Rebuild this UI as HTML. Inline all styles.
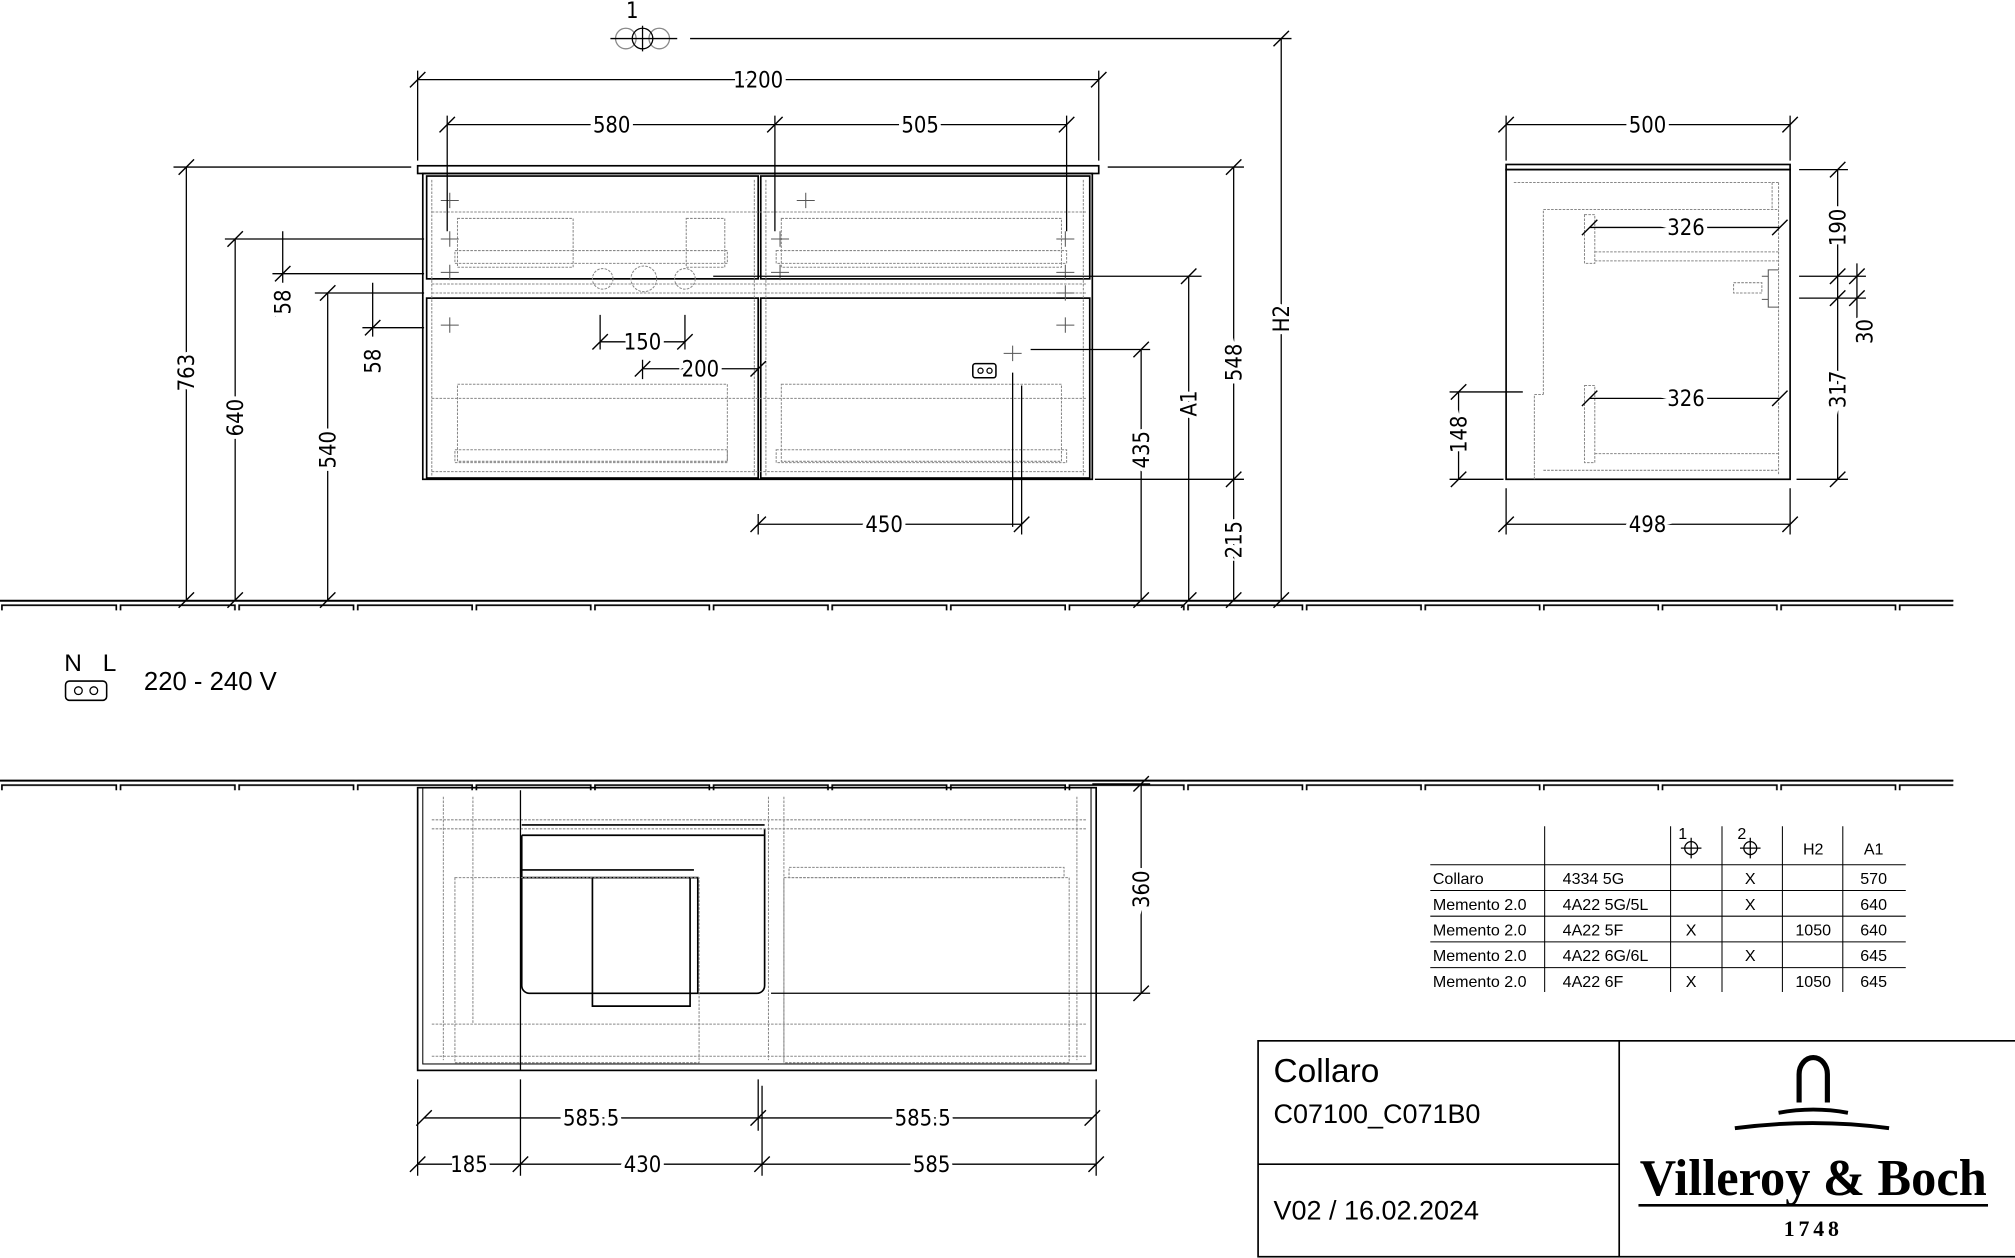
<!DOCTYPE html>
<html><head><meta charset="utf-8"><style>
html,body{margin:0;padding:0;background:#fff;}
svg{display:block}
.d{font-family:"DejaVu Sans Condensed","Liberation Sans",sans-serif;font-size:17px;fill:#000}
.t{font-family:"Liberation Sans",sans-serif;fill:#000}
</style></head><body>
<svg width="2015" height="1258" viewBox="0 0 1568 979" preserveAspectRatio="none" xmlns="http://www.w3.org/2000/svg">
<defs>
<pattern id="fl" width="92.3" height="10" patternUnits="userSpaceOnUse" x="0" y="0">
<rect x="1.5" y="1" width="89" height="6" fill="none" stroke="#000" stroke-width="1.3"/>
</pattern>
</defs>
<rect width="1568" height="979" fill="#fff"/>
<rect x="0" y="467" width="1520" height="8" fill="url(#fl)"/>
<line x1="0" y1="467.5" x2="1520" y2="467.5" stroke="#000" stroke-width="1.5"/>
<g transform="translate(0,140)"><rect x="0" y="467" width="1520" height="8" fill="url(#fl)"/>
<line x1="0" y1="467.5" x2="1520" y2="467.5" stroke="#000" stroke-width="1.5"/></g>

<g fill="none" stroke="#000" stroke-width="1.3">
<rect x="325" y="129" width="530" height="6"/>
<rect x="329" y="135" width="521" height="238"/>
<rect x="332" y="137" width="258" height="80"/>
<rect x="592" y="137" width="256" height="80"/>
<rect x="332" y="232" width="258" height="140"/>
<rect x="592" y="232" width="256" height="140"/>
<g stroke="#888" stroke-width="0.8" stroke-dasharray="2,1">
<line x1="336" y1="165" x2="846" y2="165"/><line x1="336" y1="221" x2="846" y2="221"/><line x1="336" y1="228" x2="846" y2="228"/>
<rect x="356" y="170" width="90" height="38"/><rect x="534" y="170" width="30" height="38"/>
<rect x="354" y="195" width="212" height="10"/>
<rect x="608" y="170" width="218" height="38"/><rect x="604" y="195" width="226" height="10"/>
<rect x="356" y="299" width="210" height="60"/><rect x="354" y="350" width="212" height="10"/>
<rect x="608" y="299" width="218" height="60"/><rect x="604" y="350" width="226" height="10"/>
<line x1="336" y1="310" x2="846" y2="310"/><line x1="336" y1="367" x2="846" y2="367"/>
<line x1="336" y1="140" x2="336" y2="370"/><line x1="843" y1="140" x2="843" y2="370"/>
<line x1="587" y1="140" x2="587" y2="370"/><line x1="596" y1="140" x2="596" y2="370"/>
<circle cx="469" cy="217" r="8"/><circle cx="501" cy="217" r="10"/><circle cx="533" cy="217" r="8"/>
</g>
<rect x="757" y="283" width="18" height="11" rx="2" stroke-width="1.2"/>
<circle cx="763" cy="288.5" r="2" stroke-width="1"/><circle cx="770" cy="288.5" r="2" stroke-width="1"/>
<g stroke="#555" stroke-width="0.8">
<path d="M343 186h14M350 180v12M343 212h14M350 206v12M343 253h14M350 247v12M343 156h14M350 150v12M620 156h14M627 150v12M600 186h14M607 180v12M600 212h14M607 206v12M822 186h14M829 180v12M822 212h14M829 206v12M822 253h14M829 247v12M822 228h14M829 222v12M781 275h14M788 269v12"/>
</g>

<!-- side view -->
<rect x="1172" y="128" width="221" height="4"/>
<rect x="1172" y="132" width="221" height="241"/>
<g stroke="#888" stroke-width="0.8" stroke-dasharray="2,1">
<line x1="1178" y1="142" x2="1384" y2="142"/><line x1="1384" y1="142" x2="1384" y2="370"/><line x1="1379" y1="142" x2="1379" y2="163"/>
<path d="M1201 307V163H1384"/><rect x="1233" y="167" width="8" height="38"/><line x1="1241" y1="203" x2="1384" y2="203"/><line x1="1241" y1="196" x2="1384" y2="196"/>
<rect x="1233" y="300" width="8" height="60"/><line x1="1241" y1="353" x2="1384" y2="353"/><line x1="1201" y1="366" x2="1384" y2="366"/>
<path d="M1194 373V307H1201"/>
<rect x="1349" y="220" width="22" height="8"/>
</g>
<path d="M1384 210h-8v29h8M1371 215h5M1371 233h5" fill="none" stroke="#555" stroke-width="0.8"/>

<!-- plan view -->
<rect x="325" y="613" width="528" height="220"/>
<rect x="329" y="613" width="520" height="215" stroke-width="0.8"/>
<path d="M406 650H595V645V767a6 6 0 0 1-6 6H412a6 6 0 0 1-6-6V650"/>
<line x1="406" y1="642" x2="595" y2="642"/>
<path d="M406 683H543V773M406 677H540M461 683V783H537V683"/>
<g stroke="#888" stroke-width="0.8" stroke-dasharray="2,1">
<line x1="336" y1="638" x2="846" y2="638"/><line x1="336" y1="645" x2="846" y2="645"/>
<line x1="336" y1="797" x2="846" y2="797"/><line x1="336" y1="822" x2="846" y2="822"/>
<rect x="354" y="683" width="190" height="144"/><rect x="610" y="683" width="222" height="144"/><rect x="614" y="675" width="214" height="8"/>
<line x1="345" y1="620" x2="345" y2="825"/><line x1="368" y1="620" x2="368" y2="797"/><line x1="598" y1="620" x2="598" y2="825"/><line x1="610" y1="620" x2="610" y2="825"/><line x1="838" y1="620" x2="838" y2="825"/>
</g>
</g>

<g fill="none" stroke="#000" stroke-width="1">
<path d="M325 55V125M855 55V125M325 62H855"/>
<path d="M348 90V180M603 90V180M830 90V180M348 97H830"/>
<path d="M1172 90V125M1393 90V125M1172 97H1393"/>
<path d="M467 245V272M533 245V272M467 266H533"/>
<path d="M500 280V295M500 287H590"/>
<path d="M590 400V416M795 300V416M590 408H795"/>
<path d="M1172 380V416M1393 380V416M1172 408H1393"/>
<path d="M1237 177H1385M1237 310H1385"/>
<path d="M325 840V915M853 840V915M590 840V880M405 615V833M405 840V915M593 845V915M330 870H850M325 906H853"/>
<path d="M135 130H320M145 130V467"/>
<path d="M175 186H330M183 186V467M212 213H330M220 180V220"/>
<path d="M245 228H330M255 228V467M282 255H330M290 220V262"/>
<path d="M802 272H895M888 272V467M788 290V410"/>
<path d="M555 215H935M925 215V467"/>
<path d="M862 130H968M960 130V467M852 373H968"/>
<path d="M537 30H1005M997 30V467"/>
<path d="M1400 132H1438M1430 132V373M1398 373H1438M1400 215H1452M1400 232H1452M1445 205V268"/>
<path d="M1128 305H1185M1135 305V373M1128 373H1170"/>
<path d="M600 773H895M888 610V773M850 610H895"/>
</g>
<g stroke="#000" stroke-width="1.1">
<path id="tk" d="M-6 6L6 -6" transform="translate(325,62)"/>
<use href="#tk" transform="translate(530,0)"/>
<use href="#tk" transform="translate(23,35)"/><use href="#tk" transform="translate(278,35)"/><use href="#tk" transform="translate(505,35)"/>
<use href="#tk" transform="translate(847,35)"/><use href="#tk" transform="translate(1068,35)"/>
<use href="#tk" transform="translate(142,204)"/><use href="#tk" transform="translate(208,204)"/>
<use href="#tk" transform="translate(175,225)"/><use href="#tk" transform="translate(265,225)"/>
<use href="#tk" transform="translate(265,346)"/><use href="#tk" transform="translate(470,346)"/>
<use href="#tk" transform="translate(847,346)"/><use href="#tk" transform="translate(1068,346)"/>
<use href="#tk" transform="translate(912,115)"/><use href="#tk" transform="translate(1060,115)"/>
<use href="#tk" transform="translate(912,248)"/><use href="#tk" transform="translate(1060,248)"/>
<use href="#tk" transform="translate(5,808)"/><use href="#tk" transform="translate(265,808)"/><use href="#tk" transform="translate(525,808)"/>
<use href="#tk" transform="translate(0,844)"/><use href="#tk" transform="translate(80,844)"/><use href="#tk" transform="translate(268,844)"/><use href="#tk" transform="translate(528,844)"/>
<use href="#tk" transform="translate(-180,68)"/><use href="#tk" transform="translate(-180,405)"/>
<use href="#tk" transform="translate(-142,124)"/><use href="#tk" transform="translate(-142,405)"/>
<use href="#tk" transform="translate(-105,151)"/><use href="#tk" transform="translate(-105,178)"/>
<use href="#tk" transform="translate(-70,166)"/><use href="#tk" transform="translate(-70,405)"/>
<use href="#tk" transform="translate(-35,193)"/><use href="#tk" transform="translate(-35,220)"/>
<use href="#tk" transform="translate(563,210)"/><use href="#tk" transform="translate(563,405)"/>
<use href="#tk" transform="translate(600,153)"/><use href="#tk" transform="translate(600,405)"/>
<use href="#tk" transform="translate(635,68)"/><use href="#tk" transform="translate(635,311)"/><use href="#tk" transform="translate(635,405)"/>
<use href="#tk" transform="translate(672,-32)"/><use href="#tk" transform="translate(672,405)"/>
<use href="#tk" transform="translate(1105,70)"/><use href="#tk" transform="translate(1105,153)"/><use href="#tk" transform="translate(1105,170)"/><use href="#tk" transform="translate(1105,311)"/>
<use href="#tk" transform="translate(1120,153)"/><use href="#tk" transform="translate(1120,170)"/>
<use href="#tk" transform="translate(810,243)"/><use href="#tk" transform="translate(810,311)"/>
<use href="#tk" transform="translate(563,548)"/><use href="#tk" transform="translate(563,711)"/>
</g>
<g class="d" text-anchor="middle" stroke="#fff" stroke-width="6" paint-order="stroke">
<text x="590" y="68">1200</text>
<text x="476" y="103">580</text>
<text x="716" y="103">505</text>
<text x="1282" y="103">500</text>
<text x="500" y="272">150</text>
<text x="545" y="293">200</text>
<text x="688" y="414">450</text>
<text x="1282" y="414">498</text>
<text x="1312" y="183">326</text>
<text x="1312" y="316">326</text>
<text x="460" y="876">585.5</text>
<text x="718" y="876">585.5</text>
<text x="365" y="912">185</text>
<text x="500" y="912">430</text>
<text x="725" y="912">585</text>
<text transform="translate(151,290) rotate(-90)">763</text>
<text transform="translate(189,325) rotate(-90)">640</text>
<text transform="translate(261,350) rotate(-90)">540</text>
<text transform="translate(226,235) rotate(-90)">58</text>
<text transform="translate(296,281) rotate(-90)">58</text>
<text transform="translate(894,350) rotate(-90)">435</text>
<text transform="translate(931,314) rotate(-90)">A1</text>
<text transform="translate(966,282) rotate(-90)">548</text>
<text transform="translate(966,420) rotate(-90)">215</text>
<text transform="translate(1003,248) rotate(-90)">H2</text>
<text transform="translate(1436,177) rotate(-90)">190</text>
<text transform="translate(1457,258) rotate(-90)">30</text>
<text transform="translate(1436,303) rotate(-90)">317</text>
<text transform="translate(1141,338) rotate(-90)">148</text>
<text transform="translate(894,692) rotate(-90)">360</text>
</g>
<text x="492" y="14" class="d" text-anchor="middle">1</text>
<g fill="none" stroke="#000" stroke-width="1">
<circle cx="487" cy="30" r="8" stroke="#888"/><circle cx="513" cy="30" r="8" stroke="#888"/>
<circle cx="500" cy="30" r="8"/><path d="M475 30H527M500 20V40"/>
</g>
<text x="50" y="522" class="t" font-size="19">N</text><text x="80" y="522" class="t" font-size="19">L</text>
<rect x="51" y="530" width="32" height="15" rx="3" fill="none" stroke="#000" stroke-width="1.2"/>
<circle cx="61" cy="537.5" r="3" fill="none" stroke="#000"/><circle cx="73" cy="537.5" r="3" fill="none" stroke="#000"/>
<text x="112" y="537" class="t" font-size="20">220 - 240 V</text>

<g stroke="#000" stroke-width="0.8">
<path d="M1113 673H1483M1113 693H1483M1113 713H1483M1113 733H1483M1113 753H1483"/>
<path d="M1202 643V772M1300 643V772M1340 643V772M1387 643V772M1434 643V772"/>
</g>
<g fill="none" stroke="#000" stroke-width="1"><circle cx="1316" cy="660" r="5"/><path d="M1308 660H1324M1316 652V668"/><circle cx="1362" cy="660" r="5"/><path d="M1354 660H1370M1362 652V668"/></g>
<g class="t" font-size="12.5">
<text x="1306" y="653">1</text><text x="1352" y="653">2</text>
<text x="1411" y="665" text-anchor="middle">H2</text><text x="1458" y="665" text-anchor="middle">A1</text>
<text x="1115" y="688">Collaro</text><text x="1216" y="688">4334 5G</text><text x="1362" y="688" text-anchor="middle">X</text><text x="1458" y="688" text-anchor="middle">570</text>
<text x="1115" y="708">Memento 2.0</text><text x="1216" y="708">4A22 5G/5L</text><text x="1362" y="708" text-anchor="middle">X</text><text x="1458" y="708" text-anchor="middle">640</text>
<text x="1115" y="728">Memento 2.0</text><text x="1216" y="728">4A22 5F</text><text x="1316" y="728" text-anchor="middle">X</text><text x="1411" y="728" text-anchor="middle">1050</text><text x="1458" y="728" text-anchor="middle">640</text>
<text x="1115" y="748">Memento 2.0</text><text x="1216" y="748">4A22 6G/6L</text><text x="1362" y="748" text-anchor="middle">X</text><text x="1458" y="748" text-anchor="middle">645</text>
<text x="1115" y="768">Memento 2.0</text><text x="1216" y="768">4A22 6F</text><text x="1316" y="768" text-anchor="middle">X</text><text x="1411" y="768" text-anchor="middle">1050</text><text x="1458" y="768" text-anchor="middle">645</text>
</g>

<g fill="none" stroke="#000" stroke-width="1.3">
<rect x="979" y="810" width="595" height="168"/>
<line x1="1260" y1="810" x2="1260" y2="978"/>
<line x1="979" y1="906" x2="1260" y2="906"/>
</g>
<text x="991" y="842" class="t" font-size="26">Collaro</text>
<text x="991" y="874" class="t" font-size="21">C07100_C071B0</text>
<text x="991" y="949" class="t" font-size="21">V02 / 16.02.2024</text>
<g fill="none" stroke="#000">
<path d="M1400 858V836a11 13 0 0 1 22 0V858" stroke-width="4"/>
<path d="M1384 866Q1411 861 1438 866" stroke-width="3"/>
<path d="M1350 878Q1411 870 1470 878" stroke-width="3"/>
</g>
<text x="1276" y="930" textLength="270" lengthAdjust="spacingAndGlyphs" style="font-family:'Liberation Serif',serif;font-weight:bold" font-size="40">Villeroy &amp; Boch</text>
<line x1="1275" y1="938" x2="1547" y2="938" stroke="#000" stroke-width="2"/>
<text x="1411" y="962" text-anchor="middle" style="font-family:'Liberation Serif',serif;font-weight:bold;letter-spacing:3px" font-size="17">1748</text>
</svg>
</body></html>
